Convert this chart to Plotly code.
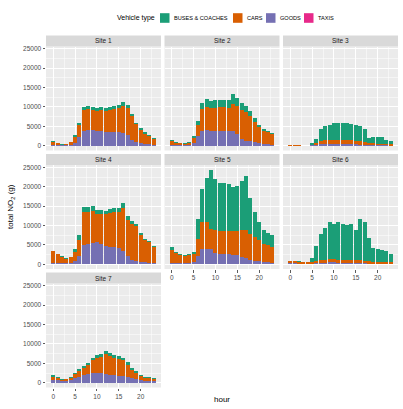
import plotly.graph_objects as go

W, H = 403, 409

hours = list(range(24))
sites = ["Site 1", "Site 2", "Site 3", "Site 4", "Site 5", "Site 6", "Site 7"]
vehicle_types = ["BUSES & COACHES", "CARS", "GOODS", "TAXIS"]
vehicle_colors = ["#1B9E77", "#D95F02", "#7570B3", "#E7298A"]
x_ticks = [0, 5, 10, 15, 20]
y_ticks = [0, 5000, 10000, 15000, 20000, 25000]

# ---- data (g NO2 per hour) ----
site1_buses = [300, 100, 80, 100, 150, 500, 700, 800, 800, 700, 600, 700, 700, 700, 700, 800, 900, 800, 600, 400, 300, 300, 250, 200]
site1_cars = [580, 380, 200, 230, 530, 1480, 2940, 5460, 5360, 5260, 5160, 5560, 5460, 5760, 6060, 6060, 6860, 6960, 6150, 4640, 3440, 2630, 2030, 1480]
site1_goods = [300, 200, 100, 150, 300, 700, 2300, 3800, 4000, 4000, 3900, 3700, 3600, 3500, 3500, 3600, 3400, 2800, 1500, 900, 700, 500, 400, 300]
site1_taxis = [20, 20, 20, 20, 20, 20, 20, 20, 20, 20, 20, 20, 20, 20, 20, 20, 20, 20, 20, 20, 20, 20, 20, 20]

site2_buses = [200, 100, 100, 100, 150, 400, 1000, 1700, 2000, 1800, 2000, 2000, 1900, 1900, 2600, 2000, 1700, 1500, 1200, 1000, 700, 500, 400, 300]
site2_cars = [980, 580, 430, 330, 480, 1380, 3040, 5460, 5960, 5860, 5860, 5960, 5960, 5960, 6860, 7360, 7660, 7360, 6650, 5340, 4040, 3330, 3030, 2730]
site2_goods = [300, 200, 150, 150, 250, 700, 2400, 3900, 4000, 3900, 3900, 3900, 3900, 3800, 3900, 3000, 1600, 1300, 1100, 900, 700, 500, 400, 300]
site2_taxis = [20, 20, 20, 20, 20, 20, 20, 20, 20, 20, 20, 20, 20, 20, 20, 20, 20, 20, 20, 20, 20, 20, 20, 20]

site3_buses = [20, 20, 20, 0, 50, 300, 1000, 3000, 3550, 3850, 4350, 4450, 4450, 4400, 4300, 4000, 3850, 3400, 1300, 1700, 1750, 1820, 1200, 850]
site3_cars = [200, 200, 170, 0, 0, 200, 510, 830, 930, 930, 930, 930, 930, 930, 930, 880, 830, 730, 530, 470, 420, 370, 320, 270]
site3_goods = [0, 0, 0, 0, 0, 100, 250, 450, 500, 500, 500, 500, 500, 450, 450, 400, 300, 250, 150, 120, 100, 80, 60, 50]
site3_taxis = [60, 60, 50, 0, 0, 20, 30, 20, 20, 20, 20, 20, 20, 20, 20, 20, 20, 20, 20, 20, 20, 20, 20, 20]

site4_buses = [150, 100, 100, 100, 150, 600, 1200, 1200, 1100, 1300, 1000, 1000, 900, 1000, 1000, 1000, 1300, 1000, 900, 700, 500, 400, 300, 200]
site4_cars = [2930, 2330, 1730, 1230, 1430, 2430, 4140, 8440, 8340, 8140, 7140, 7640, 8040, 8640, 9040, 9240, 10940, 9440, 9140, 8940, 7040, 5640, 5240, 4140]
site4_goods = [400, 300, 250, 200, 300, 800, 2200, 5000, 5200, 5500, 5800, 5300, 4800, 4500, 4400, 4200, 3500, 2000, 1200, 800, 600, 500, 400, 300]
site4_taxis = [20] * 24

site5_buses = [600, 400, 300, 300, 300, 500, 5300, 8700, 11300, 15400, 13100, 12300, 12200, 12100, 11400, 11400, 12800, 14100, 9300, 6600, 4700, 3600, 3100, 3000]
site5_cars = [3350, 2450, 2030, 1730, 1950, 2150, 4450, 6950, 7050, 5150, 5750, 5950, 6050, 6050, 6150, 6350, 6950, 7150, 6450, 6050, 5550, 4550, 4350, 4150]
site5_goods = [400, 300, 250, 250, 300, 500, 2000, 3800, 3900, 3800, 3000, 2700, 2600, 2500, 2400, 2300, 1800, 1600, 1200, 900, 700, 600, 500, 400]
site5_taxis = [30] * 24

site6_buses = [50, 50, 50, 50, 50, 800, 3900, 6700, 8200, 9600, 9200, 9700, 9200, 9100, 9200, 7750, 10700, 10050, 6000, 3620, 3330, 2990, 2750, 2100]
site6_cars = [620, 540, 500, 490, 460, 540, 640, 740, 740, 840, 840, 740, 740, 740, 740, 740, 840, 740, 640, 540, 540, 490, 440, 390]
site6_goods = [100, 80, 70, 60, 60, 100, 200, 300, 300, 400, 400, 300, 300, 300, 300, 250, 200, 150, 100, 80, 70, 60, 50, 50]
site6_taxis = [130, 130, 130, 100, 80, 60, 60, 60, 60, 60, 60, 60, 60, 60, 60, 60, 60, 60, 60, 60, 60, 60, 60, 60]

site7_buses = [300, 200, 100, 100, 150, 300, 400, 500, 500, 600, 700, 700, 800, 800, 700, 700, 700, 600, 500, 400, 300, 200, 200, 150]
site7_cars = [780, 580, 380, 380, 530, 1080, 1580, 1880, 2180, 3280, 3880, 4180, 5280, 4880, 4480, 4280, 4080, 3280, 2280, 1680, 1080, 780, 730, 630]
site7_goods = [800, 700, 400, 500, 700, 1100, 1500, 2000, 2300, 2500, 2500, 2400, 2200, 2000, 1900, 1800, 1700, 1400, 1100, 900, 700, 500, 450, 400]
site7_taxis = [20] * 24

site_data = [
    (site1_buses, site1_cars, site1_goods, site1_taxis),
    (site2_buses, site2_cars, site2_goods, site2_taxis),
    (site3_buses, site3_cars, site3_goods, site3_taxis),
    (site4_buses, site4_cars, site4_goods, site4_taxis),
    (site5_buses, site5_cars, site5_goods, site5_taxis),
    (site6_buses, site6_cars, site6_goods, site6_taxis),
    (site7_buses, site7_cars, site7_goods, site7_taxis),
]

# ---- layout geometry (pixels) ----
col_px = [(46, 161), (164.5, 279.5), (283, 398)]
row_plot_px = [(46.5, 150.5), (165, 269), (283.5, 387.5)]
strip_h = 11
FONT = "Liberation Sans, Arial, sans-serif"

def px_x(v):
    return v / W

def px_y(v):
    return 1 - v / H

fig = go.Figure()

# y range from data (ggplot-style 5% expansion)
ymax = max(max(sum(c[h] for c in d) for h in hours) for d in site_data)
yrange = [-0.05 * ymax, 1.05 * ymax]
bw = 0.9
xspan = (hours[-1] + bw / 2) - (hours[0] - bw / 2)
xrange = [hours[0] - bw / 2 - 0.05 * xspan, hours[-1] + bw / 2 + 0.05 * xspan]

grid_col = "white"
tick_font = dict(family=FONT, size=6.5, color="#4D4D4D")

shapes = []
annotations = []

for i, (name, d) in enumerate(zip(sites, site_data)):
    r, c = divmod(i, 3)
    ax = "" if i == 0 else str(i + 1)
    buses, cars, goods, taxis = d
    # stack: TAXIS bottom ... BUSES top
    for vals, vt, col in [(taxis, "TAXIS", vehicle_colors[3]),
                          (goods, "GOODS", vehicle_colors[2]),
                          (cars, "CARS", vehicle_colors[1]),
                          (buses, "BUSES & COACHES", vehicle_colors[0])]:
        fig.add_trace(go.Bar(x=hours, y=vals, width=bw, name=vt,
                             marker=dict(color=col, line=dict(width=0)),
                             xaxis="x" + ax, yaxis="y" + ax, showlegend=False))
    x0, x1 = col_px[c]
    y0, y1 = row_plot_px[r]
    show_x = (i >= 4)  # bottom panel of each column: sites 5, 6, 7
    show_y = (c == 0)
    fig.update_layout(**{
        "xaxis" + ax: dict(
            domain=[px_x(x0), px_x(x1)], anchor="y" + ax, range=xrange,
            tickvals=x_ticks, tickformat="d", showticklabels=show_x,
            ticks="outside" if show_x else "", ticklen=2.5, tickwidth=0.8, tickcolor="#333333",
            tickfont=tick_font, showgrid=True, gridcolor=grid_col, gridwidth=1,
            minor=dict(tickvals=[2.5, 7.5, 12.5, 17.5, 22.5], showgrid=True, gridcolor=grid_col, gridwidth=0.5),
            zeroline=False, showline=False, fixedrange=True),
        "yaxis" + ax: dict(
            domain=[px_y(y1), px_y(y0)], anchor="x" + ax, range=yrange,
            tickvals=y_ticks, tickformat="d", showticklabels=show_y,
            ticks="outside" if show_y else "", ticklen=2.5, tickwidth=0.8, tickcolor="#333333",
            tickfont=tick_font, showgrid=True, gridcolor=grid_col, gridwidth=1,
            minor=dict(tickvals=[2500, 7500, 12500, 17500, 22500], showgrid=True, gridcolor=grid_col, gridwidth=0.5),
            zeroline=False, showline=False, fixedrange=True),
    })
    # strip
    shapes.append(dict(type="rect", xref="paper", yref="paper",
                       x0=px_x(x0), x1=px_x(x1), y0=px_y(y0), y1=px_y(y0 - strip_h),
                       fillcolor="#D9D9D9", line=dict(width=0), layer="below"))
    annotations.append(dict(text=name, xref="paper", yref="paper",
                            x=px_x((x0 + x1) / 2), y=px_y(y0 - strip_h / 2),
                            xanchor="center", yanchor="middle", showarrow=False,
                            font=dict(family=FONT, size=6.5, color="#1A1A1A")))

# axis titles
annotations.append(dict(text="hour", xref="paper", yref="paper",
                        x=px_x((col_px[0][0] + col_px[2][1]) / 2), y=px_y(399),
                        xanchor="center", yanchor="middle", showarrow=False,
                        font=dict(family=FONT, size=8, color="#000000")))
annotations.append(dict(text="total NO<sub>2</sub> (g)", xref="paper", yref="paper",
                        x=px_x(11), y=px_y(207),
                        xanchor="center", yanchor="middle", showarrow=False, textangle=-90,
                        font=dict(family=FONT, size=8, color="#000000")))

# legend (drawn manually to match ggplot's compact layout)
legend_y = 18
annotations.append(dict(text="Vehicle type", xref="paper", yref="paper",
                        x=px_x(157), y=px_y(legend_y), xanchor="right", yanchor="middle",
                        showarrow=False,
                        font=dict(family=FONT, size=7, color="#000000")))
swatch_x = [160, 233, 266, 304]
for sx, vt, col in zip(swatch_x, vehicle_types, vehicle_colors):
    shapes.append(dict(type="rect", xref="paper", yref="paper",
                       x0=px_x(sx), x1=px_x(sx + 9.5), y0=px_y(legend_y + 4.8), y1=px_y(legend_y - 4.8),
                       fillcolor=col, line=dict(width=0)))
    annotations.append(dict(text=vt, xref="paper", yref="paper",
                            x=px_x(sx + 11.5), y=px_y(legend_y), xanchor="left", yanchor="middle",
                            showarrow=False,
                            font=dict(family=FONT, size=5.6, color="#000000")))

fig.update_layout(
    width=W, height=H, margin=dict(l=0, r=0, t=0, b=0),
    paper_bgcolor="white", plot_bgcolor="#EBEBEB",
    barmode="stack", bargap=0, showlegend=False,
    shapes=shapes, annotations=annotations,
    font=dict(family=FONT),
)

fig.write_html("out.html",
               config={"displayModeBar": False, "staticPlot": True},
               post_script="document.body.style.margin='0';document.body.style.overflow='hidden';")
